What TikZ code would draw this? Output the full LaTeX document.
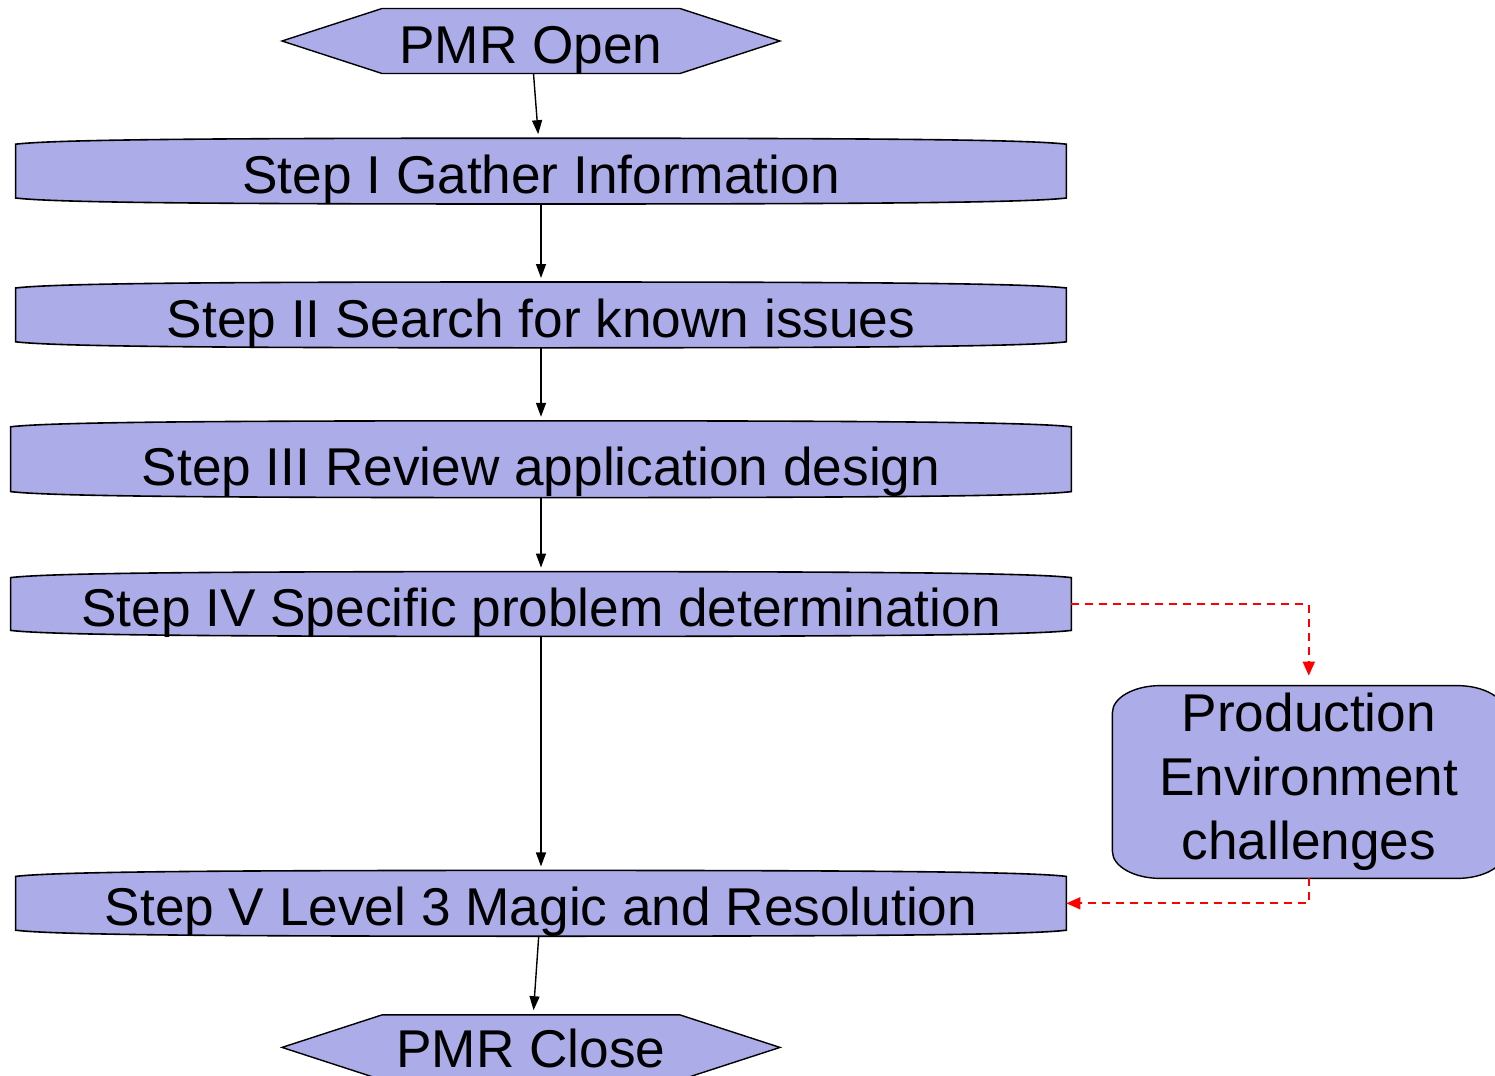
\documentclass[tikz,border=0pt]{standalone}
\usepackage{fontspec}
\setmainfont{Liberation Sans}
\usetikzlibrary{arrows.meta,positioning,shapes.symbols,backgrounds}
\definecolor{boxfill}{RGB}{172,172,232}

\begin{document}
\begin{tikzpicture}[
    x=0.5pt, y=0.5pt,
    txt/.style={font=\fontsize{26.6pt}{32pt}\selectfont},
    termbox/.style={txt, signal, signal to=west and east, signal pointer angle=36,
                    draw, fill=boxfill, line width=0.7pt, minimum width=249pt,
                    minimum height=32.5pt, inner sep=0pt, text height=22.5pt, text depth=0pt},
    stepbox/.style={txt, minimum width=525pt, minimum height=32.5pt, inner sep=0pt,
                    text height=22.5pt, text depth=0pt},
    stepline/.style={draw=black, fill=boxfill, line width=0.8pt},
    envbox/.style={txt, minimum width=196pt, minimum height=96pt, inner sep=2pt, align=center},
    arrow/.style={-{Triangle[length=7pt,width=5pt]}, line width=0.7pt, shorten >=2pt},
    redarrow/.style={-{Triangle[length=7pt,width=6pt]}, red, line width=0.9pt,
                     dash pattern=on 4pt off 3pt},
]
\useasboundingbox (0,0) rectangle (1495,-1076);

% Start
\node[termbox] (open) at (531,-41) {PMR Open};

% Steps
\node[stepbox, below=32pt of open, xshift=5pt] (s1) {Step I Gather Information};
\node[stepbox, below=39pt of s1] (s2) {Step II Search for known issues};
\node[stepbox, below=36.5pt of s2, minimum width=530pt, minimum height=38pt,
      text height=26.5pt] (s3) {Step III Review application design};
\node[stepbox, below=37pt of s3, minimum width=530pt, minimum height=32pt] (s4) {Step IV Specific problem determination};
\node[stepbox, below=117pt of s4] (s5) {Step V Level 3 Magic and Resolution};

% End
\node[termbox, below=39pt of s5, xshift=-5pt, text height=20.5pt] (close) {PMR Close};

% Side box
\node[envbox, anchor=south west] (prod) at ([xshift=23pt,yshift=-4pt]s5.north east)
    {Production\\Environment\\challenges};

% Outlines behind the texts
\begin{scope}[on background layer]
\foreach \n in {s1, s2, s3, s4, s5}
    \draw[stepline] ([yshift=-3pt]\n.north west)
        .. controls +(20pt,2.4pt) and +(-160pt,0pt) .. (\n.north)
        .. controls +(160pt,0pt) and +(-20pt,2.4pt) .. ([yshift=-3pt]\n.north east)
        -- ([yshift=3pt]\n.south east)
        .. controls +(-20pt,-2.4pt) and +(160pt,0pt) .. (\n.south)
        .. controls +(-160pt,0pt) and +(20pt,-2.4pt) .. ([yshift=3pt]\n.south west)
        -- cycle;
\draw[stepline, line width=0.7pt] ([xshift=24pt]prod.north west) -- ([xshift=-24pt]prod.north east)
    arc[start angle=90, end angle=0, x radius=24pt, y radius=13.5pt]
    -- ([yshift=13.5pt]prod.south east)
    arc[start angle=0, end angle=-90, x radius=24pt, y radius=13.5pt]
    -- ([xshift=24pt]prod.south west)
    arc[start angle=270, end angle=180, x radius=24pt, y radius=13.5pt]
    -- ([yshift=-13.5pt]prod.north west)
    arc[start angle=180, end angle=90, x radius=24pt, y radius=13.5pt] -- cycle;
\end{scope}

% Arrows: main flow
\foreach \a/\b in {open/s1, s1/s2, s2/s3, s3/s4, s4/s5, s5/close}
    \draw[arrow] (\a) -- (\b);

% Arrows: detour
\draw[redarrow, shorten >=5pt] (s4.east) -| (prod.north);
\draw[redarrow] (prod.south) |- (s5.east);

\end{tikzpicture}
\end{document}
